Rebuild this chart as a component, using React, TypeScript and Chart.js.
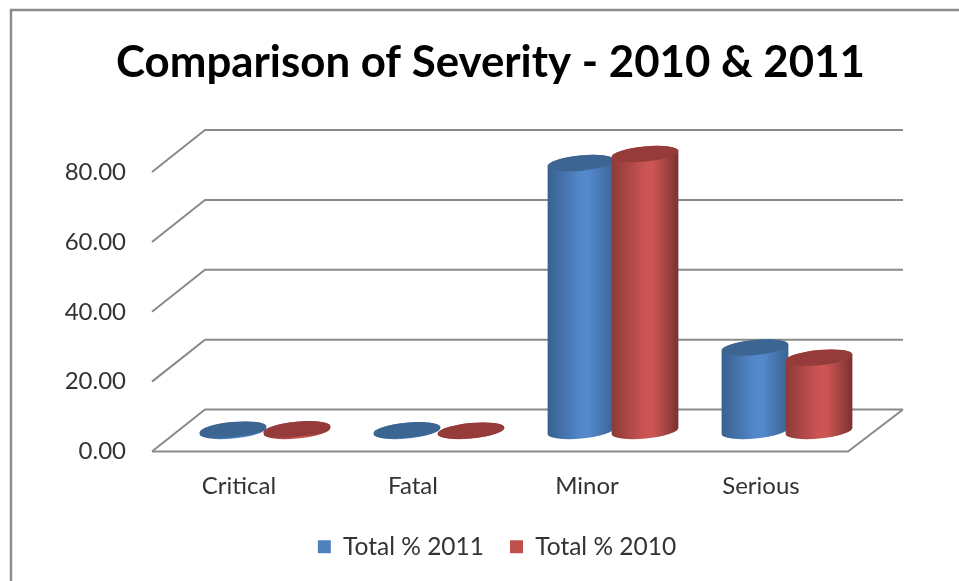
import React, { useEffect, useRef } from "react";
import { Chart, registerables } from "chart.js";

Chart.register(...registerables);

const categories = ["Critical", "Fatal", "Minor", "Serious"];
const total2011 = [0.4, 0.2, 76.7, 23.9];
const total2010 = [0.5, 0.1, 79.3, 21.0];
const gridValues = [0, 20, 40, 60, 80];

const depthX = 53;
const depthY = 42;
const barShiftX = 26;
const barShiftY = 20.5;
const lineColor = "#8a8a8a";
const FONT = "Lato, 'Open Sans', sans-serif";

const palettes = [
  { edgeL: "#38618f", mid: "#5388cb", edgeR: "#3a6493", cap: "#3c6592" },
  { edgeL: "#8c3a38", mid: "#cc5553", edgeR: "#7a3230", cap: "#953c3a" },
];

const sketchPlugin = {
  id: "sketch3d",
  afterLayout(chart: any) {
    chart.titleBlock.left += 66.5;
    chart.titleBlock.right += 66.5;
    chart.legend.left += 73;
    chart.legend.right += 73;
  },
  beforeDraw(chart: any) {
    const { ctx, width, height } = chart;
    ctx.save();
    ctx.fillStyle = "#ffffff";
    ctx.fillRect(0, 0, width, height);
    ctx.strokeStyle = "#8c8c8c";
    ctx.lineWidth = 2.5;
    ctx.beginPath();
    ctx.moveTo(11, height);
    ctx.lineTo(11, 10);
    ctx.lineTo(width, 10);
    ctx.stroke();
    ctx.restore();
  },
  beforeDatasetsDraw(chart: any) {
    const { ctx, chartArea, scales } = chart;
    const { left, right } = chartArea;
    ctx.save();
    ctx.strokeStyle = lineColor;
    ctx.lineWidth = 2;
    ctx.lineJoin = "miter";
    gridValues.forEach((v) => {
      const y = scales.y.getPixelForValue(v);
      ctx.beginPath();
      ctx.moveTo(left, y);
      ctx.lineTo(left + depthX, y - depthY);
      ctx.lineTo(right + depthX + 2, y - depthY);
      ctx.stroke();
    });
    const y0 = scales.y.getPixelForValue(0);
    ctx.beginPath();
    ctx.moveTo(left, y0);
    ctx.lineTo(right, y0);
    ctx.lineTo(right + depthX + 2, y0 - depthY);
    ctx.stroke();
    ctx.restore();
  },
  beforeDatasetDraw() {
    return false;
  },
  afterDatasetsDraw(chart: any) {
    const { ctx } = chart;
    const rot = (-5.5 * Math.PI) / 180;
    const ry = 7.6;
    chart.data.datasets.forEach((_: any, di: number) => {
      const meta = chart.getDatasetMeta(di);
      const pal = palettes[di];
      meta.data.forEach((el: any) => {
        const p = el.getProps(["x", "y", "base", "width"], true);
        const cx = p.x + barShiftX;
        const top = p.y - barShiftY;
        const base = p.base - barShiftY;
        const rx = p.width / 2 + 1.5;
        ctx.save();
        const g = ctx.createLinearGradient(cx - rx, 0, cx + rx, 0);
        g.addColorStop(0, pal.edgeL);
        g.addColorStop(0.5, pal.mid);
        g.addColorStop(0.62, pal.mid);
        g.addColorStop(1, pal.edgeR);
        ctx.fillStyle = g;
        ctx.beginPath();
        ctx.ellipse(cx, base, rx, ry, rot, Math.PI, 0, true);
        ctx.ellipse(cx, top, rx, ry, rot, 0, Math.PI, true);
        ctx.closePath();
        ctx.fill();
        ctx.fillStyle = pal.cap;
        ctx.beginPath();
        ctx.ellipse(cx, top, rx, ry, rot, 0, Math.PI * 2);
        ctx.fill();
        ctx.restore();
      });
    });
  },
};

export default function App() {
  const ref = useRef<HTMLCanvasElement | null>(null);
  useEffect(() => {
    const chart = new Chart(ref.current as HTMLCanvasElement, {
      type: "bar",
      data: {
        labels: categories,
        datasets: [
          { label: "Total % 2011", data: total2011, backgroundColor: "#4f81bd", borderWidth: 0, categoryPercentage: 0.736, barPercentage: 1 },
          { label: "Total % 2010", data: total2010, backgroundColor: "#c0504d", borderWidth: 0, categoryPercentage: 0.736, barPercentage: 1 },
        ],
      },
      options: {
        responsive: false,
        animation: false,
        layout: { padding: { left: 0, right: 111, top: 0, bottom: 12 } },
        scales: {
          x: {
            grid: { display: false, drawTicks: false },
            border: { display: false },
            ticks: {
              padding: 20,
              color: "#333333",
              font: { family: FONT, size: 24 },
              maxRotation: 0,
            },
            afterFit(scale: any) {
              scale.height = 57;
            },
          },
          y: {
            min: 0,
            max: 80,
            grid: { display: false, drawTicks: false },
            border: { display: false },
            ticks: {
              stepSize: 20,
              padding: 26,
              color: "#333333",
              font: { family: FONT, size: 24 },
              callback: (v: any) => Number(v).toFixed(2),
            },
            afterFit(scale: any) {
              scale.width = 152;
            },
          },
        },
        plugins: {
          title: {
            display: true,
            text: "Comparison of Severity - 2010 & 2011",
            color: "#000000",
            font: { family: FONT, size: 43.8, weight: "bold", lineHeight: 1.2 },
            padding: { top: 36.5, bottom: 83 },
          },
          legend: {
            position: "bottom",
            labels: {
              boxWidth: 13,
              boxHeight: 13,
              color: "#333333",
              font: { family: FONT, size: 24.5 },
              padding: 26,
            },
          },
          tooltip: { enabled: false },
        },
      } as any,
      plugins: [sketchPlugin as any],
    });
    return () => chart.destroy();
  }, []);
  return (
    <div style={{ position: "absolute", left: 0, top: 0, width: 959, height: 581 }}>
      <canvas ref={ref} width={959} height={581} style={{ display: "block", filter: "blur(0.5px)" }} />
    </div>
  );
}
